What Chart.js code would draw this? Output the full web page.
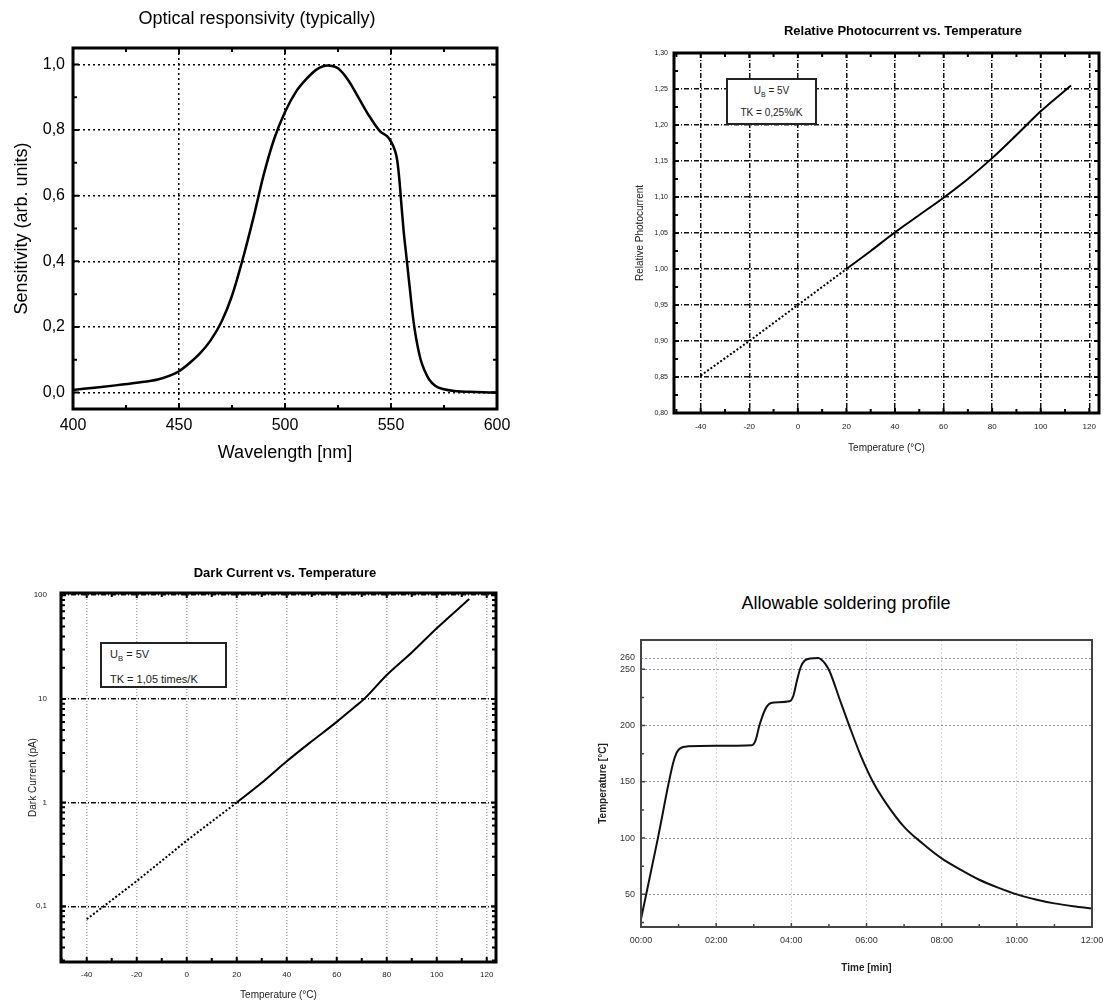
<!DOCTYPE html>
<html>
<head>
<meta charset="utf-8">
<script src="https://cdn.jsdelivr.net/npm/chart.js@4.4.1/dist/chart.umd.min.js"></script>
<style>
    body { margin: 0; background: #fff; font-family: 'Liberation Sans', Arial, sans-serif; }
    #page { position: relative; width: 1115px; height: 1005px; overflow: hidden; }
    canvas { position: absolute; }
    .title { position: absolute; width: 500px; height: 20px; line-height: 20px; text-align: center; white-space: nowrap; color: #000; }
    .note { position: absolute; border: 2px solid #222; background: #fff; color: #222; white-space: nowrap; }
    .note sub { font-size: 70%; }
</style>
</head>
<body>
<div id="page">
    <canvas id="c1" width="520" height="470" style="left:0;top:0"></canvas>
    <canvas id="c2" width="495" height="470" style="left:620px;top:0"></canvas>
    <canvas id="c3" width="520" height="465" style="left:0;top:540px"></canvas>
    <canvas id="c4" width="555" height="385" style="left:560px;top:620px"></canvas>

    <div class="title" style="left:7px;top:8px;font-size:18px">Optical responsivity (typically)</div>
    <div class="title" style="left:653px;top:21px;font-size:13px;font-weight:bold">Relative Photocurrent vs. Temperature</div>
    <div class="title" style="left:35px;top:563px;font-size:13px;font-weight:bold">Dark Current vs. Temperature</div>
    <div class="title" style="left:596px;top:593px;font-size:18px">Allowable soldering profile</div>

    <div class="note" style="left:726px;top:78px;width:87px;height:41px;font-size:10px;line-height:18px;text-align:center;padding-top:2px;box-sizing:content-box">
        U<sub>B</sub> = 5V<br>TK = 0,25%/K
    </div>
    <div class="note" style="left:100px;top:642px;width:115px;height:42px;font-size:11px;line-height:21px;padding-left:8px">
        U<sub>B</sub> = 5V<br>TK = 1,05 times/K
    </div>
</div>

<script>
// ---------- 数据 ----------
// 光谱响应
const wavelength = [400, 410, 420, 430, 440, 445, 450, 455, 460, 465, 470, 475, 480, 485, 490, 495, 500, 505, 510, 515,
    520, 525, 530, 535, 540, 545, 548, 550, 552, 553, 554, 555, 556, 557, 558, 559, 560, 561, 562, 564,
    566, 568, 571, 575, 580, 590, 600];
const sensitivity = [0.008, 0.015, 0.022, 0.03, 0.04, 0.05, 0.065, 0.09, 0.12, 0.16, 0.215, 0.295, 0.405, 0.53, 0.665, 0.775, 0.855, 0.915, 0.955, 0.985,
    0.997, 0.988, 0.95, 0.895, 0.84, 0.795, 0.782, 0.765, 0.735, 0.705, 0.645, 0.565, 0.49, 0.43, 0.37, 0.31, 0.25, 0.2, 0.16, 0.1,
    0.065, 0.04, 0.02, 0.01, 0.005, 0.002, 0.0];
const xTicks1 = [400, 450, 500, 550, 600];
const xLabels1 = ['400', '450', '500', '550', '600'];
const yTicks1 = [0, 0.2, 0.4, 0.6, 0.8, 1.0];
const yLabels1 = ['0,0', '0,2', '0,4', '0,6', '0,8', '1,0'];

// 相对光电流
const photoTempDotted = [-40, -20, 0, 20];
const photoDotted = [0.852, 0.90, 0.95, 1.0];
const photoTempSolid = [20, 30, 40, 50, 60, 70, 80, 90, 100, 112.5];
const photoSolid = [1.0, 1.025, 1.051, 1.075, 1.099, 1.125, 1.154, 1.186, 1.219, 1.255];
const tempTicks = [-40, -20, 0, 20, 40, 60, 80, 100, 120];
const tempLabels = ['-40', '-20', '0', '20', '40', '60', '80', '100', '120'];
const yTicks2 = [0.80, 0.85, 0.90, 0.95, 1.00, 1.05, 1.10, 1.15, 1.20, 1.25, 1.30];
const yLabels2 = ['0,80', '0,85', '0,90', '0,95', '1,00', '1,05', '1,10', '1,15', '1,20', '1,25', '1,30'];

// 暗电流
const darkTempDotted = [-40, -20, 0, 20];
const darkDotted = [0.075, 0.175, 0.43, 1.0];
const darkTempSolid = [20, 30, 40, 50, 60, 67, 71, 80, 90, 100, 113];
const darkSolid = [1.0, 1.55, 2.5, 3.9, 6.0, 8.3, 10, 17, 28, 48, 92];
const yTicks3 = [0.1, 1, 10, 100];
const yLabels3 = ['0,1', '1', '10', '100'];

// 焊接曲线
const timeMin = [0, 0.45, 0.85, 0.95, 1.05, 1.25, 2.0, 2.95, 3.05, 3.15, 3.3, 3.4, 3.55, 3.95, 4.05, 4.15, 4.25, 4.35, 4.5, 4.72,
    4.8, 4.9, 5.02, 5.3, 5.54, 5.85, 6.17, 6.5, 7.0, 7.5, 8.0, 8.5, 9.0, 9.5, 10.0, 10.5, 11.0, 11.5, 12.0];
const solderTemp = [28, 100, 166, 176, 180, 181.5, 182, 182.5, 187, 200, 214, 219, 220.5, 221.5, 226, 240, 252, 257.5, 259.5, 260,
    258.5, 255, 248, 222, 200, 173, 150, 132, 110, 95, 82, 72, 63, 56, 50, 45.5, 42, 39.5, 37.5];
const timeTicks = [0, 2, 4, 6, 8, 10, 12];
const timeLabels = ['00:00', '02:00', '04:00', '06:00', '08:00', '10:00', '12:00'];
const yTicks4 = [50, 100, 150, 200, 250, 260];
const yLabels4 = ['50', '100', '150', '200', '250', '260'];

// ---------- 工具函数 ----------
Chart.defaults.font.family = "'Liberation Sans', Arial, sans-serif";
Chart.defaults.color = '#000';
Chart.defaults.animation = false;

const pts = (xs, ys) => xs.map((x, i) => ({ x: x, y: ys[i] }));
const fixTicks = values => scale => { scale.ticks = values.map(v => ({ value: v })); };
const range = (a, b, step) => { const r = []; for (let v = a; v <= b + 1e-9; v += step) r.push(+v.toFixed(4)); return r; };

// 边框和向内的刻度线
function frame(cfg) {
    return {
        id: 'frame',
        afterDraw(chart) {
            const { ctx, chartArea: a, scales } = chart;
            const sides = cfg.sides;
            ctx.save();
            ctx.strokeStyle = cfg.color;
            ctx.lineWidth = cfg.tickWidth;
            ctx.beginPath();
            const mark = (axis, values, len) => values.forEach(v => {
                const p = scales[axis].getPixelForValue(v);
                if (axis === 'x') {
                    if (sides.includes('bottom')) { ctx.moveTo(p, a.bottom); ctx.lineTo(p, a.bottom - len); }
                    if (sides.includes('top')) { ctx.moveTo(p, a.top); ctx.lineTo(p, a.top + len); }
                } else {
                    if (sides.includes('left')) { ctx.moveTo(a.left, p); ctx.lineTo(a.left + len, p); }
                    if (sides.includes('right')) { ctx.moveTo(a.right, p); ctx.lineTo(a.right - len, p); }
                }
            });
            mark('x', cfg.xMajor, cfg.major);
            mark('x', cfg.xMinor, cfg.minor);
            mark('y', cfg.yMajor, cfg.major);
            mark('y', cfg.yMinor, cfg.minor);
            ctx.stroke();
            ctx.lineWidth = cfg.width;
            ctx.strokeRect(a.left, a.top, a.right - a.left, a.bottom - a.top);
            ctx.restore();
        }
    };
}

const noPlugins = { legend: { display: false }, tooltip: { enabled: false } };

// ---------- 图1 光谱响应 ----------
new Chart(document.getElementById('c1'), {
    type: 'line',
    data: {
        datasets: [{
            data: pts(wavelength, sensitivity),
            borderColor: '#000', borderWidth: 2.5, pointRadius: 0, cubicInterpolationMode: 'monotone'
        }]
    },
    options: {
        responsive: false,
        layout: { padding: { left: 0, top: 48, right: 23, bottom: 0 } },
        plugins: noPlugins,
        scales: {
            x: {
                type: 'linear', min: 400, max: 600,
                afterBuildTicks: fixTicks(xTicks1),
                afterFit: s => { s.height = 61; },
                grid: { color: '#000', lineWidth: 1.5, drawTicks: false },
                border: { display: false, dash: [2, 3] },
                ticks: { autoSkip: false, maxRotation: 0, padding: 7, font: { size: 16 }, callback: (v, i) => xLabels1[i] },
                title: { display: true, text: 'Wavelength [nm]', font: { size: 18 }, padding: { top: 0, bottom: 6 } }
            },
            y: {
                min: -0.05, max: 1.05,
                afterBuildTicks: fixTicks(yTicks1),
                afterFit: s => { s.width = 73; },
                grid: { color: '#000', lineWidth: 1.5, drawTicks: false },
                border: { display: false, dash: [2, 3] },
                ticks: { autoSkip: false, padding: 8, font: { size: 16 }, callback: (v, i) => yLabels1[i] },
                title: { display: true, text: 'Sensitivity (arb. units)', font: { size: 18 }, padding: { top: 11, bottom: 0 } }
            }
        }
    },
    plugins: [frame({
        color: '#000', width: 3, tickWidth: 2, major: 6, minor: 4,
        sides: ['bottom', 'top', 'left', 'right'],
        xMajor: xTicks1, xMinor: [425, 475, 525, 575],
        yMajor: yTicks1, yMinor: [0.1, 0.3, 0.5, 0.7, 0.9]
    })]
});

// ---------- 图2 相对光电流 ----------
new Chart(document.getElementById('c2'), {
    type: 'line',
    data: {
        datasets: [
            { data: pts(photoTempDotted, photoDotted), borderColor: '#000', borderWidth: 2, borderDash: [2, 2], pointRadius: 0 },
            { data: pts(photoTempSolid, photoSolid), borderColor: '#000', borderWidth: 2, pointRadius: 0, cubicInterpolationMode: 'monotone' }
        ]
    },
    options: {
        responsive: false,
        layout: { padding: { left: 0, top: 53, right: 16, bottom: 0 } },
        plugins: noPlugins,
        scales: {
            x: {
                type: 'linear', min: -51, max: 124,
                afterBuildTicks: fixTicks(tempTicks),
                afterFit: s => { s.height = 57; },
                grid: { color: '#111', lineWidth: 1.5, drawTicks: false },
                border: { display: false, dash: [5, 2, 1, 2] },
                ticks: { autoSkip: false, maxRotation: 0, padding: 9, color: '#222', font: { size: 8 }, callback: (v, i) => tempLabels[i] },
                title: { display: true, text: 'Temperature (°C)', color: '#222', font: { size: 10 }, padding: { top: 0, bottom: 16 } }
            },
            y: {
                min: 0.80, max: 1.30,
                afterBuildTicks: fixTicks(yTicks2),
                afterFit: s => { s.width = 54; },
                grid: { color: '#111', lineWidth: 1.5, drawTicks: false },
                border: { display: false, dash: [5, 2, 1, 2] },
                ticks: { autoSkip: false, padding: 6, color: '#222', font: { size: 7 }, callback: (v, i) => yLabels2[i] },
                title: { display: true, text: 'Relative Photocurrent', color: '#222', font: { size: 10 }, padding: { top: 14, bottom: 0 } }
            }
        }
    },
    plugins: [frame({
        color: '#000', width: 3, tickWidth: 2, major: 5, minor: 4,
        sides: ['bottom', 'top', 'left', 'right'],
        xMajor: tempTicks, xMinor: range(-50, 110, 20),
        yMajor: yTicks2, yMinor: range(0.825, 1.275, 0.05)
    })]
});

// ---------- 图3 暗电流 ----------
const logMinor = [];
[0.01, 0.1, 1, 10].forEach(d => { for (let k = 2; k <= 9; k++) logMinor.push(d * k); });

new Chart(document.getElementById('c3'), {
    type: 'line',
    data: {
        datasets: [
            { data: pts(darkTempDotted, darkDotted), borderColor: '#000', borderWidth: 2, borderDash: [2, 2], pointRadius: 0 },
            { data: pts(darkTempSolid, darkSolid), borderColor: '#000', borderWidth: 2, pointRadius: 0, cubicInterpolationMode: 'monotone' }
        ]
    },
    options: {
        responsive: false,
        layout: { padding: { left: 0, top: 53, right: 24, bottom: 0 } },
        plugins: noPlugins,
        scales: {
            x: {
                type: 'linear', min: -50.3, max: 123.7,
                afterBuildTicks: fixTicks(tempTicks),
                afterFit: s => { s.height = 43; },
                grid: { color: '#aaa', lineWidth: 1.5, drawTicks: false },
                border: { display: false, dash: [1, 2] },
                ticks: { autoSkip: false, maxRotation: 0, padding: 8, color: '#222', font: { size: 8 }, callback: (v, i) => tempLabels[i] },
                title: { display: true, text: 'Temperature (°C)', color: '#222', font: { size: 10 }, padding: { top: 0, bottom: 4 } }
            },
            y: {
                type: 'logarithmic', min: 0.029, max: 105,
                afterBuildTicks: fixTicks(yTicks3),
                afterFit: s => { s.width = 61; },
                grid: { color: '#111', lineWidth: 1.5, drawTicks: false },
                border: { display: false, dash: [5, 2, 1, 2] },
                ticks: { autoSkip: false, padding: 14, color: '#222', font: { size: 8 }, callback: (v, i) => yLabels3[i] },
                title: { display: true, text: 'Dark Current (pA)', color: '#222', font: { size: 10 }, padding: { top: 27, bottom: 0 } }
            }
        }
    },
    plugins: [frame({
        color: '#000', width: 3, tickWidth: 2, major: 5, minor: 4,
        sides: ['bottom', 'top', 'left', 'right'],
        xMajor: tempTicks, xMinor: range(-50, 110, 20),
        yMajor: yTicks3, yMinor: logMinor.filter(v => v > 0.029 && v < 105)
    })]
});

// ---------- 图4 焊接曲线 ----------
new Chart(document.getElementById('c4'), {
    type: 'line',
    data: {
        datasets: [{
            data: pts(timeMin, solderTemp),
            borderColor: '#111', borderWidth: 2, pointRadius: 0, cubicInterpolationMode: 'monotone'
        }]
    },
    options: {
        responsive: false,
        layout: { padding: { left: 0, top: 20, right: 23, bottom: 0 } },
        plugins: noPlugins,
        scales: {
            x: {
                type: 'linear', min: 0, max: 12,
                afterBuildTicks: fixTicks(timeTicks),
                afterFit: s => { s.height = 78; },
                grid: { color: '#d4d4dc', lineWidth: 1, drawTicks: false },
                border: { display: false, dash: [2, 2] },
                ticks: { autoSkip: false, maxRotation: 0, padding: 8, color: '#333', font: { size: 9 }, callback: (v, i) => timeLabels[i] },
                title: { display: true, text: 'Time [min]', color: '#222', font: { size: 10, weight: 'bold' }, padding: { top: 0, bottom: 31 } }
            },
            y: {
                min: 21, max: 276,
                afterBuildTicks: fixTicks(yTicks4),
                afterFit: s => { s.width = 81; },
                grid: { color: '#9090a8', lineWidth: 1, drawTicks: false },
                border: { display: false, dash: [2, 2] },
                ticks: { autoSkip: false, padding: 6, color: '#333', font: { size: 9 }, callback: (v, i) => yLabels4[i] },
                title: { display: true, text: 'Temperature [°C]', color: '#222', font: { size: 10, weight: 'bold' }, padding: { top: 37, bottom: 0 } }
            }
        }
    },
    plugins: [frame({
        color: '#444', width: 2, tickWidth: 1.5, major: 4, minor: 3,
        sides: ['bottom', 'left'],
        xMajor: timeTicks, xMinor: [1, 3, 5, 7, 9, 11],
        yMajor: [50, 100, 150, 200, 250], yMinor: [25, 75, 125, 175, 225]
    })]
});
</script>
</body>
</html>
